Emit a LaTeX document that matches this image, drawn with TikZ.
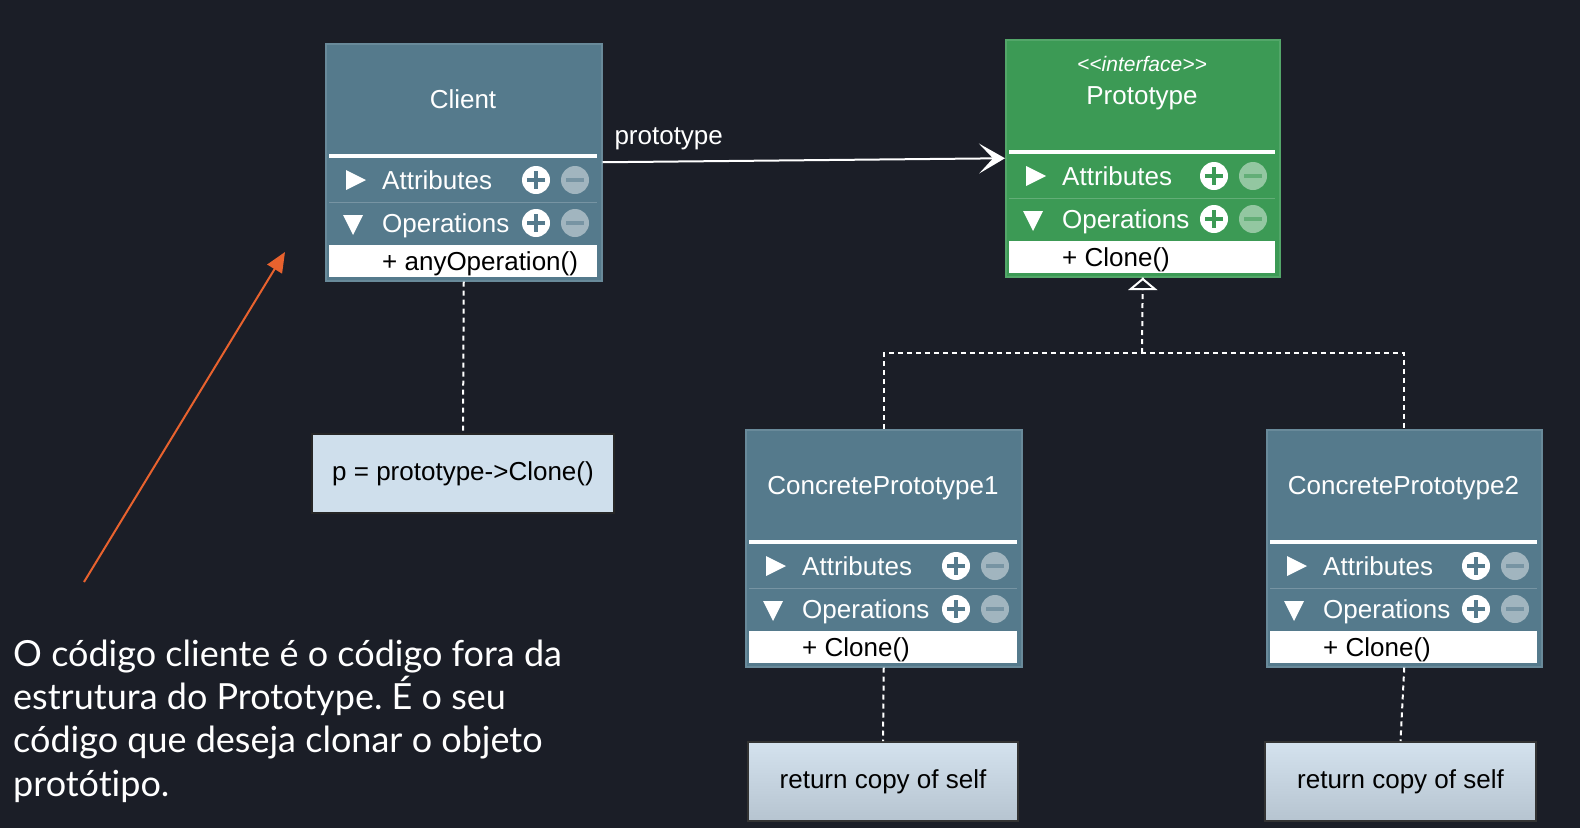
\documentclass[tikz,border=0pt]{standalone}
\usepackage{fontspec}
\setmainfont{Liberation Sans}
\newfontfamily\latofont[Ligatures={NoCommon}]{Lato}
\newfontfamily\stereofont[Ligatures=TeXOff]{Liberation Sans}
\usetikzlibrary{arrows.meta}
\definecolor{bg}{HTML}{1B1E27}
\definecolor{steel}{HTML}{557A8C}
\definecolor{protogreen}{HTML}{3C9A55}
\definecolor{notefill}{HTML}{CFDFEC}
\definecolor{retTop}{HTML}{D4E2EE}
\definecolor{retBot}{HTML}{B6C4D0}
\definecolor{orangeline}{HTML}{E8622E}

\tikzset{
  classbox/.style={line width=1.5pt, inner sep=0pt, anchor=north west},
  titletext/.style={text=white, font=\fontsize{26}{31}\selectfont, inner sep=0pt, anchor=base},
  rowtext/.style={text=white, font=\fontsize{26}{31}\selectfont, inner sep=0pt, anchor=base west},
  optext/.style={text=black, font=\fontsize{26}{31}\selectfont, inner sep=0pt, anchor=base west},
  dotlink/.style={draw=white, line width=2pt, dash pattern=on 5pt off 4pt},
  notebox/.style={draw=black!85, line width=2pt, fill=notefill, text=black,
    font=\fontsize{26}{31}\selectfont, inner sep=0pt, minimum height=79pt},
  retbox/.style={draw=black!80, line width=2pt, top color=retTop, bottom color=retBot,
    text=black, font=\fontsize{26}{31}\selectfont, inner sep=0pt, minimum height=79pt},
  realizehead/.style={draw=white, line width=2pt, fill=bg, line join=miter},
}

% #1 name, #2 left, #3 top, #4 width, #5 fill, #6 title, #7 operation
\newcommand{\umlclass}[7]{%
  \begin{scope}[shift={(#2,#3)}]
    \node[classbox, fill=#5, draw=#5!88!white, minimum width=#4pt, minimum height=237pt] (#1) at (0,0) {};
    \node[titletext] (#1-title) at (#4/2,65) {#6};
    \draw[white, line width=4pt] (4,113) -- (#4-4,113);
    \fill[white] (21,127) -- (41,137) -- (21,147) -- cycle;
    \node[rowtext] (#1-attr) at (57,146) {Attributes};
    \draw[white, opacity=0.2, line width=1pt] (4,159) -- (#4-4,159);
    \fill[white] (18,172) -- (38,172) -- (28,192) -- cycle;
    \node[rowtext] (#1-ops) at (57,189) {Operations};
    \fill[white] (4,202) rectangle (#4-4,234);
    \node[optext] (#1-op) at (57,227) {#7};
    \foreach \yy in {137,180} {
      \fill[white] (#4-65,\yy) circle[radius=14];
      \fill[#5] (#4-74,\yy-2.2) rectangle (#4-56,\yy+2.2);
      \fill[#5] (#4-67.2,\yy-9) rectangle (#4-62.8,\yy+9);
      \fill[white, opacity=0.45] (#4-26,\yy) circle[radius=14];
      \fill[#5, opacity=0.55] (#4-35,\yy-2.2) rectangle (#4-17,\yy+2.2);
    }
  \end{scope}}

\begin{document}
\begin{tikzpicture}[x=1pt, y=-1pt]
  \fill[bg] (0,0) rectangle (1580,828);
  \useasboundingbox (0,0) rectangle (1580,828);

  \umlclass{client}{325}{43}{276}{steel}{Client}{+ anyOperation()}
  \umlclass{proto}{1005}{39}{274}{protogreen}{Prototype}{+ Clone()}
  \umlclass{cpa}{745}{429}{276}{steel}{ConcretePrototype1}{+ Clone()}
  \umlclass{cpb}{1266}{429}{275}{steel}{ConcretePrototype2}{+ Clone()}

  \node[text=white, font=\stereofont\itshape\fontsize{21}{25}\selectfont, anchor=base, inner sep=0pt]
    (proto-stereo) at (1142,71) {<<interface>>};

  \node[notebox, minimum width=302pt] (note) at (463,473.5) {p = prototype->Clone()};
  \node[retbox, minimum width=270pt] (reta) at (883,781.5) {return copy of self};
  \node[retbox, minimum width=271pt] (retb) at (1400.5,781.5) {return copy of self};

  \draw[dotlink] (client.south) -- (note.north);
  \draw[dotlink] (cpa.south) -- (reta.north);
  \draw[dotlink] (cpb.south) -- (retb.north);

  \coordinate (join) at (1142,353);
  \draw[dotlink] (cpa.north) |- (join) -| (cpb.north);
  \draw[dotlink] (join) -- (proto.south);
  \draw[realizehead] ([yshift=-1.5pt]proto.south) -- ++(-12,10) -- ++(24,0) -- cycle;

  \draw[white, line width=2pt, -{Stealth[length=26pt, width=30pt, inset=14pt]}]
    (client.east) -- (proto.west)
    node[at start, anchor=base west, xshift=11pt, yshift=18pt, text=white,
         font=\fontsize{26}{31}\selectfont, inner sep=0pt] (assoclabel) {prototype};

  \coordinate (otail) at (84,582);
  \coordinate (ohead) at (285,252);
  \draw[orangeline, line width=2pt, -{Triangle[length=20pt, width=17pt]}] (otail) -- (ohead);

  \node[anchor=base west, align=left, inner sep=0pt, text=white,
        font=\latofont\fontsize{36}{43.2}\selectfont\frenchspacing] (caption) at (13,796)
    {O código cliente é o código fora da\\estrutura do Prototype. É o seu\\código que deseja clonar o objeto\\protótipo.};
\end{tikzpicture}
\end{document}
